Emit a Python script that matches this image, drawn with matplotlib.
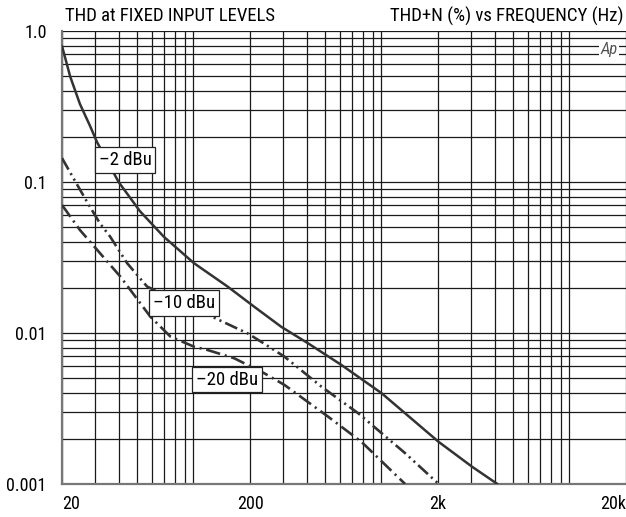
import numpy as np
import matplotlib
matplotlib.use("Agg")
import matplotlib.pyplot as plt
from matplotlib import font_manager
from matplotlib.ticker import FixedLocator, NullFormatter, LogLocator

# pick a condensed face if the system has one, otherwise plain Liberation Sans
names = {f.name for f in font_manager.fontManager.ttflist}
FONT, NARROW = "Liberation Sans", False
for cand in ["Liberation Sans Narrow", "Roboto Condensed", "DejaVu Sans Condensed",
             "Open Sans Condensed", "Noto Sans Condensed"]:
    if cand in names:
        FONT, NARROW = cand, True
        break
plt.rcParams["font.family"] = [FONT, "DejaVu Sans"]
fs_title = 13.5 if NARROW else 11
fs_tick = 13 if NARROW else 11.5
fs_lab = 13.5 if NARROW else 11.5

# --------------------------
# DATA (frequency in Hz, THD+N in %)
# --------------------------
freq_m2 = [20, 22.1, 24.9, 28.2, 30.7, 40, 52, 69.6, 100.7, 152, 211, 293, 407, 613,
           1003, 1337, 2017, 3040, 4140]
thd_m2 = [0.796, 0.50, 0.329, 0.235, 0.184, 0.100, 0.064, 0.0434, 0.0290, 0.0203,
          0.0149, 0.0110, 0.00855, 0.00614, 0.00399, 0.00294, 0.00190, 0.00130, 0.00100]

freq_m10 = [20, 23, 27.5, 31.9, 36.1, 44.4, 56.7, 126, 194, 229, 305, 480, 753, 1337, 2017]
thd_m10 = [0.144, 0.106, 0.072, 0.053, 0.0434, 0.0290, 0.0203, 0.0128, 0.00995, 0.00876,
           0.00697, 0.00441, 0.00294, 0.00160, 0.00100]

freq_m20 = [20, 24.9, 31.9, 40.9, 59.1, 75.6, 100.7, 118.8, 165, 239, 305, 521, 784, 1337]
thd_m20 = [0.0704, 0.0481, 0.0337, 0.0236, 0.0128, 0.00945, 0.00812, 0.00772, 0.00680,
           0.00540, 0.00453, 0.00279, 0.00190, 0.00100]

x_ticks = [20, 200, 2000, 20000]
x_labels = ["20", "200", "2k", "20k"]
y_ticks = [0.001, 0.01, 0.1, 1.0]
y_labels = ["0.001", "0.01", "0.1", "1.0"]

# --------------------------
# FIGURE
# --------------------------
fig = plt.figure(figsize=(6.26, 5.17), dpi=100)
ax = fig.add_axes([62 / 626, 33 / 517, 564 / 626, 453 / 517])
ax.set_xscale("log")
ax.set_yscale("log")
ax.set_xlim(20, 20000)
ax.set_ylim(0.001, 1.0)

ax.xaxis.set_major_locator(FixedLocator(x_ticks))
ax.yaxis.set_major_locator(FixedLocator(y_ticks))
ax.xaxis.set_minor_locator(LogLocator(base=10, subs=np.arange(1, 10)))
ax.yaxis.set_minor_locator(LogLocator(base=10, subs=np.arange(1, 10)))
ax.xaxis.set_minor_formatter(NullFormatter())
ax.yaxis.set_minor_formatter(NullFormatter())
ax.set_xticklabels(x_labels, fontsize=fs_tick)
ax.set_yticklabels(y_labels, fontsize=fs_tick)
ax.tick_params(which="both", length=0)
ax.tick_params(axis="x", pad=8)
ax.tick_params(axis="y", pad=11)
lbls = ax.get_xticklabels()
lbls[0].set_horizontalalignment("left")
lbls[-1].set_horizontalalignment("right")

ax.grid(which="both", color="#1a1a1a", linewidth=0.9)
for s in ["top", "right"]:
    ax.spines[s].set_visible(False)
for s in ["left", "bottom"]:
    ax.spines[s].set_color("#777777")
    ax.spines[s].set_linewidth(1.6)

line_col = "#333333"
ax.plot(freq_m2, thd_m2, color=line_col, lw=1.8, solid_capstyle="round", zorder=3)
ax.plot(freq_m10, thd_m10, color=line_col, lw=1.9,
        linestyle=(0, (5, 1.6, 0.8, 1.6, 0.8, 1.6)), zorder=3)
ax.plot(freq_m20, thd_m20, color=line_col, lw=1.9,
        linestyle=(0, (5.5, 1.8, 0.8, 1.8)), zorder=3)

box = dict(boxstyle="square,pad=0.2", facecolor="white", edgecolor="#222222", linewidth=0.9)
ax.text(31.4, 0.140, "\u20132 dBu", fontsize=fs_lab, va="center", ha="left", bbox=box, zorder=5)
ax.text(61, 0.0158, "\u201310 dBu", fontsize=fs_lab, va="center", ha="left", bbox=box, zorder=5)
ax.text(103, 0.00492, "\u201320 dBu", fontsize=fs_lab, va="center", ha="left", bbox=box, zorder=5)

# Audio Precision mark in the corner
ax.text(0.985, 0.975, "Ap", transform=ax.transAxes, fontsize=12, style="italic",
        color="#555555", ha="right", va="top", zorder=5,
        bbox=dict(boxstyle="square,pad=0.1", facecolor="white", edgecolor="none"))

fig.text(65 / 626, 1 - 16 / 517, "THD at FIXED INPUT LEVELS", fontsize=fs_title, va="center", ha="left")
fig.text(624 / 626, 1 - 16 / 517, "THD+N (%) vs FREQUENCY (Hz)", fontsize=fs_title, va="center", ha="right")

fig.savefig("out.png", dpi=100)
